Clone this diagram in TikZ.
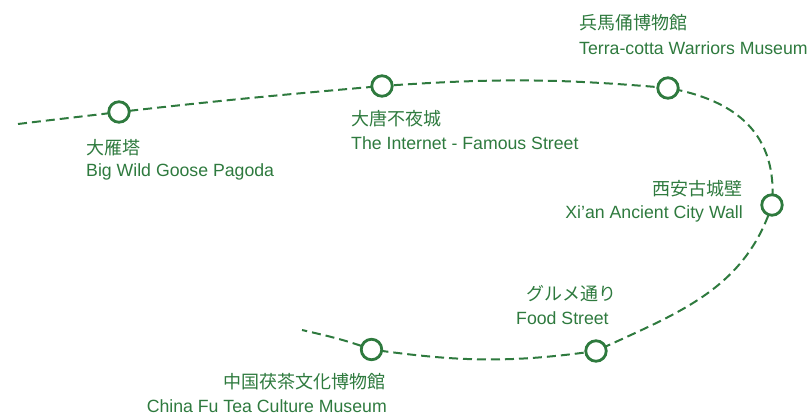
\documentclass[tikz,border=0pt]{standalone}
\usepackage{fontspec}
\setmainfont{Liberation Sans}
\newfontfamily\cjk{Noto Sans CJK JP}
\usetikzlibrary{backgrounds}
\definecolor{routegreen}{HTML}{2E7A3E}
\begin{document}
\begin{tikzpicture}[x=1pt,y=1pt,
  stop/.style={circle, draw=routegreen, line width=2.8pt, fill=white, minimum size=20.5pt, inner sep=0pt},
  routeline/.style={draw=routegreen, line width=2pt, dash pattern=on 9pt off 5pt},
  jp/.style={font=\cjk\fontsize{18}{20}\selectfont, text=routegreen, inner sep=0pt},
  en/.style={font=\fontsize{17.7}{20}\selectfont, text=routegreen, inner sep=0pt}]
\useasboundingbox (0,0) rectangle (812,-415);
% free ends
\coordinate (s) at (18,-124);
\coordinate (e) at (302,-330);
% stops
\node[stop] (c1) at (119,-112) {};
\node[stop] (c2) at (382,-86) {};
\node[stop] (c3) at (668,-88) {};
\node[stop] (c4) at (772,-205) {};
\node[stop] (c5) at (596,-351) {};
\node[stop] (c6) at (371.5,-349.5) {};
% route
\begin{pgfonlayer}{background}
\draw[routeline] (s) to[out=7,in=187] (c1.center)
  to[out=6.5,in=185] (c2.center)
  to[out=4,in=175] (c3.center)
  to[out=-10,in=85,looseness=1.15] (c4.center)
  to[out=-108,in=25] (c5.center)
  to[out=188,in=-8] (c6.center)
  to[out=160,in=-13] (e);
\end{pgfonlayer}
% labels
\node[jp, anchor=base west] (t1j) at (86,-154) {大雁塔};
\node[en, anchor=base west] (t1e) at (86,-176) {Big Wild Goose Pagoda};
\node[jp, anchor=base west] (t2j) at (351,-125) {大唐不夜城};
\node[en, anchor=base west] (t2e) at (351,-149) {The Internet - Famous Street};
\node[jp, anchor=base west] (t3j) at (579,-29) {兵馬俑博物館};
\node[en, anchor=base west] (t3e) at (579,-54.5) {Terra-cotta Warriors Museum};
\node[jp, anchor=base east] (t4j) at (743,-195.5) {西安古城壁};
\node[en, anchor=base east] (t4e) at (743,-218.5) {Xi’an Ancient City Wall};
\node[jp, anchor=base east] (t5j) at (617,-300) {グルメ通り};
\node[en, anchor=base west] (t5e) at (516,-324) {Food Street};
\node[jp, anchor=base east] (t6j) at (386,-388) {中国茯茶文化博物館};
\node[en, anchor=base east] (t6e) at (387,-412) {China Fu Tea Culture Museum};
\end{tikzpicture}
\end{document}
